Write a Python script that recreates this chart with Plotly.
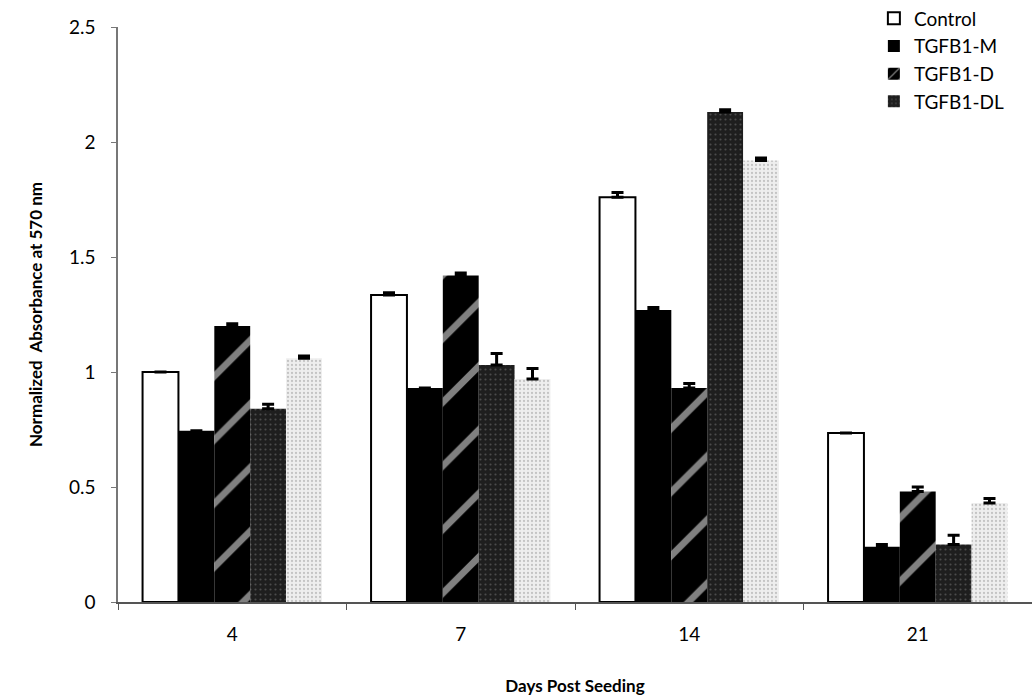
import plotly.graph_objects as go

days = ["4", "7", "14", "21"]
control = [1.00, 1.335, 1.76, 0.735]
control_err = [0.0, 0.01, 0.02, 0.0]
tgfb1_m = [0.745, 0.93, 1.27, 0.24]
tgfb1_m_err = [0.0, 0.0, 0.01, 0.01]
tgfb1_d = [1.20, 1.42, 0.93, 0.48]
tgfb1_d_err = [0.01, 0.01, 0.02, 0.02]
tgfb1_dl = [0.84, 1.03, 2.13, 0.25]
tgfb1_dl_err = [0.02, 0.05, 0.01, 0.04]
series5 = [1.06, 0.97, 1.92, 0.43]
series5_err = [0.01, 0.045, 0.01, 0.02]

FONT = "Lato, 'Open Sans', sans-serif"

def err(a):
    return dict(type="data", array=a, arrayminus=[0] * len(a), symmetric=False,
                color="black", thickness=3, width=6)

fig = go.Figure()
fig.add_trace(go.Bar(x=days, y=control, name="Control", error_y=err(control_err),
                     marker=dict(color="white", line=dict(color="black", width=2))))
fig.add_trace(go.Bar(x=days, y=tgfb1_m, name="TGFB1-M", error_y=err(tgfb1_m_err),
                     marker=dict(color="black", line=dict(color="black", width=0))))
fig.add_trace(go.Bar(x=days, y=tgfb1_d, name="TGFB1-D", error_y=err(tgfb1_d_err),
                     marker=dict(color="black", line=dict(color="black", width=0),
                                 pattern=dict(shape="/", fgcolor="white", bgcolor="black",
                                              size=45, solidity=0.15, fillmode="overlay"))))
fig.add_trace(go.Bar(x=days, y=tgfb1_dl, name="TGFB1-DL", error_y=err(tgfb1_dl_err),
                     marker=dict(color="#1e1e1e", line=dict(color="#1e1e1e", width=0),
                                 pattern=dict(shape=".", fgcolor="#777777", bgcolor="#1e1e1e",
                                              size=5, solidity=0.15, fillmode="overlay"))))
fig.add_trace(go.Bar(x=days, y=series5, name="Series 5", showlegend=False,
                     error_y=err(series5_err),
                     marker=dict(color="#e2e2e2", line=dict(color="#e2e2e2", width=0),
                                 pattern=dict(shape=".", fgcolor="#999999", bgcolor="#eeeeee",
                                              size=4, solidity=0.25, fillmode="overlay"))))

fig.update_layout(
    width=1032, height=696,
    margin=dict(l=118, r=0, t=27, b=94, autoexpand=False),
    paper_bgcolor="white", plot_bgcolor="white",
    barmode="group", bargap=0.215, bargroupgap=0,
    font=dict(family=FONT, size=18, color="black"),
    legend=dict(x=0.827, y=1.048, xanchor="left", yanchor="top",
                font=dict(size=19, family=FONT), tracegroupgap=0,
                bgcolor="rgba(0,0,0,0)", itemwidth=30),
    showlegend=True,
)
fig.update_xaxes(
    title=dict(text="<b>Days Post Seeding</b>", font=dict(size=17, family=FONT), standoff=40),
    showline=True, linecolor="#555", linewidth=1.5,
    ticks="outside", tickson="boundaries", ticklen=6, tickcolor="#555",
    ticklabelstandoff=14,
    tickfont=dict(size=19, family=FONT),
)
fig.update_yaxes(
    title=dict(text="<b>Normalized  Absorbance at 570 nm</b>", font=dict(size=17, family=FONT), standoff=22),
    range=[0, 2.5], dtick=0.5,
    showline=True, linecolor="#777", linewidth=1.5,
    ticks="outside", ticklen=5, tickcolor="#777",
    ticklabelstandoff=12,
    showgrid=False, zeroline=False,
    tickfont=dict(size=19, family=FONT),
)

fig.write_html("out.html")
